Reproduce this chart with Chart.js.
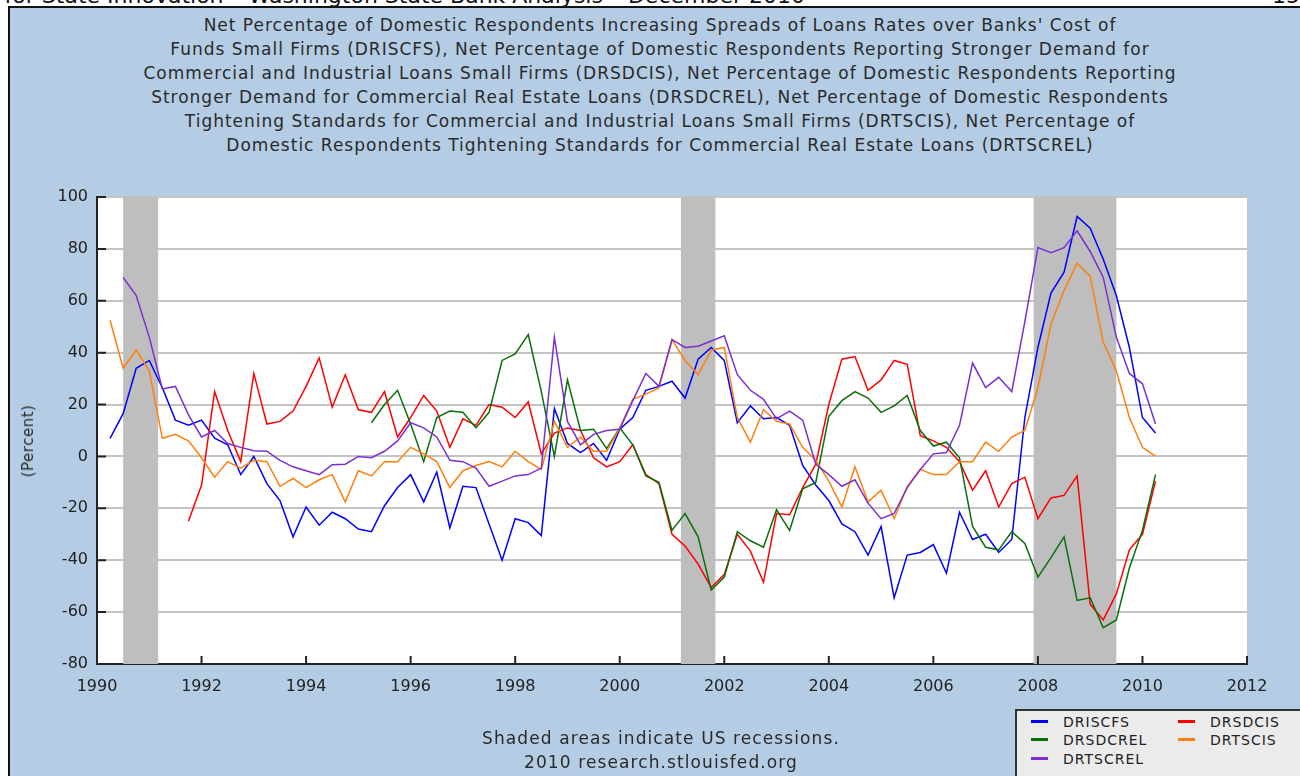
<!DOCTYPE html>
<html>
<head>
<meta charset="utf-8">
<script src="https://cdn.jsdelivr.net/npm/chart.js@4.4.1/dist/chart.umd.min.js"></script>
<style>
  html, body { margin: 0; padding: 0; background: #ffffff; width: 1300px; height: 776px; overflow: hidden; font-family: 'DejaVu Sans', Verdana, sans-serif; }
  #header { position: absolute; right: 495px; top: -15px; white-space: nowrap; font-size: 22px; line-height: 22px; color: #111; }
  #pageno { position: absolute; left: 1272px; top: -15px; font-size: 22px; line-height: 22px; color: #111; }
  #frame { position: absolute; left: 8px; top: 6px; width: 1300px; height: 780px; border-left: 2px solid #111; border-top: 2px solid #111; background: #b4cde4; }
  #chartwrap { position: absolute; left: 0; top: 0; width: 1300px; height: 776px; }
  #title { position: absolute; left: 0; top: 13px; width: 1320px; text-align: center; font-size: 17px; letter-spacing: 1px; line-height: 24px; color: #2a2a2a; }
  #ylab { position: absolute; left: 28px; top: 441px; transform: translate(-50%, -50%) rotate(-90deg); font-size: 15px; letter-spacing: 0.5px; color: #2a2a2a; white-space: nowrap; }
  .foot { position: absolute; left: 261px; width: 800px; text-align: center; font-size: 17px; letter-spacing: 1.1px; color: #2a2a2a; }
  #legend { position: absolute; left: 1015px; top: 709px; width: 290px; height: 80px; border: 2px solid #333; background: #ebebeb; }
  .li { position: absolute; font-size: 14px; letter-spacing: 1px; color: #222; line-height: 16px; }
  .sw { position: absolute; width: 17px; height: 3px; }
</style>
</head>
<body>
<div id="header">Center for State Innovation – Washington State Bank Analysis – December 2010</div>
<div id="pageno">15</div>
<div id="frame"></div>
<div id="title">Net Percentage of Domestic Respondents Increasing Spreads of Loans Rates over Banks' Cost of<br>Funds Small Firms (DRISCFS), Net Percentage of Domestic Respondents Reporting Stronger Demand for<br>Commercial and Industrial Loans Small Firms (DRSDCIS), Net Percentage of Domestic Respondents Reporting<br>Stronger Demand for Commercial Real Estate Loans (DRSDCREL), Net Percentage of Domestic Respondents<br>Tightening Standards for Commercial and Industrial Loans Small Firms (DRTSCIS), Net Percentage of<br>Domestic Respondents Tightening Standards for Commercial Real Estate Loans (DRTSCREL)</div>
<div id="chartwrap"><canvas id="c" width="1300" height="776"></canvas></div>
<div id="ylab">(Percent)</div>
<div class="foot" style="top:728px;">Shaded areas indicate US recessions.</div>
<div class="foot" style="top:752px;">2010 research.stlouisfed.org</div>
<div id="legend"></div>
<script>
// Quarterly observation dates
const quarters = [
  '1990Q2','1990Q3','1990Q4',
  '1991Q1','1991Q2','1991Q3','1991Q4',
  '1992Q1','1992Q2','1992Q3','1992Q4',
  '1993Q1','1993Q2','1993Q3','1993Q4',
  '1994Q1','1994Q2','1994Q3','1994Q4',
  '1995Q1','1995Q2','1995Q3','1995Q4',
  '1996Q1','1996Q2','1996Q3','1996Q4',
  '1997Q1','1997Q2','1997Q3','1997Q4',
  '1998Q1','1998Q2','1998Q3','1998Q4',
  '1999Q1','1999Q2','1999Q3','1999Q4',
  '2000Q1','2000Q2','2000Q3','2000Q4',
  '2001Q1','2001Q2','2001Q3','2001Q4',
  '2002Q1','2002Q2','2002Q3','2002Q4',
  '2003Q1','2003Q2','2003Q3','2003Q4',
  '2004Q1','2004Q2','2004Q3','2004Q4',
  '2005Q1','2005Q2','2005Q3','2005Q4',
  '2006Q1','2006Q2','2006Q3','2006Q4',
  '2007Q1','2007Q2','2007Q3','2007Q4',
  '2008Q1','2008Q2','2008Q3','2008Q4',
  '2009Q1','2009Q2','2009Q3','2009Q4',
  '2010Q1','2010Q2'
];

const driscfs = [
  7, 16.5, 34,
  37, 26.5, 14, 12,
  14, 7, 4.5, -7,
  0, -10.5, -17, -31,
  -19.5, -26.5, -21.5, -24,
  -28, -29, -19, -12,
  -7, -17.5, -6, -27.5,
  -11.5, -12, -26, -40,
  -24, -25.5, -30.5, 18.5,
  5, 1.5, 5, -1.5,
  10.5, 15, 25.5, 27,
  29, 22.5, 37.5, 42,
  37, 13, 19.5, 14.5,
  15, 12, -3.5, -11,
  -17, -26, -29, -38,
  -27, -54.5, -38, -37,
  -34, -45, -21.5, -32,
  -30, -37, -32, 15,
  42, 63, 71, 92.5,
  88, 76, 62, 42,
  15, 9
];

const drsdcis = [
  null, null, null,
  null, null, null, -25,
  -11, 25, 10, -2,
  32, 12.5, 13.5, 17.5,
  27, 38, 19, 31.5,
  18, 17, 25, 7.5,
  15, 23.5, 17.5, 3.5,
  14.5, 12, 20, 19,
  15, 21, 1, 9,
  11, 10, -0.5, -4,
  -2, 4.5, -7, -10.5,
  -30, -34.5, -41.5, -50.5,
  -45.5, -30, -36.5, -48.5,
  -22, -22.5, -12, -3,
  20, 37.5, 38.5, 25.5,
  29.5, 37, 35.5, 8,
  6, 3.5, -2, -13,
  -5.5, -19.5, -10.5, -8,
  -24, -16, -15, -7.5,
  -57, -63, -53, -36,
  -30, -9.5
];

const drsdcrel = [
  null, null, null,
  null, null, null, null,
  null, null, null, null,
  null, null, null, null,
  null, null, null, null,
  null, 13, 20, 25.5,
  12.5, -2, 15, 17.5,
  17, 11, 17, 37,
  39.5, 47, 25, 0,
  29.5, 10, 10.5, 3,
  11, 4.5, -7.5, -10,
  -28.5, -22, -31, -51.5,
  -46.5, -29, -32.5, -35,
  -20.5, -28.5, -12.5, -10,
  15.5, 21.5, 25, 22.5,
  17, 19.5, 23.5, 10,
  4, 5.5, -0.5, -27,
  -35, -36, -29, -33.5,
  -46.5, -39, -31, -55.5,
  -54.5, -66, -63, -43,
  -28.5, -7
];

const drtscis = [
  52.5, 34, 41,
  33, 7, 8.5, 6,
  -0.5, -8, -2, -4.5,
  -1.5, -2, -11.5, -8.5,
  -12, -9, -7, -17.5,
  -5.5, -7.5, -2, -2,
  3.5, 1, -2, -12,
  -5.5, -3.5, -2, -4,
  2, -2, -5, 13.5,
  3.5, 7.5, 2, 2,
  11, 22, 24, 26.5,
  45, 37, 31.5, 41,
  42, 15, 5.5, 18,
  13.5, 12.5, 3.5, -1.5,
  -9.5, -19.5, -4, -17.5,
  -13, -24, -11.5, -5,
  -7, -7, -2, -2,
  5.5, 2, 7.5, 10,
  26.5, 51, 64, 74.5,
  69.5, 44, 33, 15,
  3.5, 0
];

const drtscrel = [
  null, 69, 62,
  46, 26, 27, 16,
  7.5, 10, 5, 3.5,
  2.2, 2, -1.5, -4,
  -5.5, -7, -3.2, -3,
  0, -0.5, 2, 6,
  13, 11, 7.5, -1.5,
  -2, -4.5, -11.5, -9.5,
  -7.5, -7, -4.5, 46,
  13.5, 4.5, 8.5, 10,
  10.5, 21.5, 32, 27,
  45, 42, 42.5, 44.5,
  46.5, 31.5, 25.5, 22,
  14.5, 17.5, 14, -3,
  -7, -11.5, -9, -18,
  -24, -22, -12, -5,
  1, 1.5, 12, 36,
  26.5, 30.5, 25, 52,
  80.5, 78.5, 80.5, 87,
  79, 69, 46, 32,
  28, 12.5
];

const seriesNames = ['DRISCFS', 'DRSDCIS', 'DRSDCREL', 'DRTSCIS', 'DRTSCREL'];
const seriesColors = ['#0000ff', '#ff0000', '#0a6e0a', '#ff7f0e', '#7b2fd3'];

// US recessions (decimal years)
const recessionStart = [1990.5, 2001.17, 2007.92];
const recessionEnd = [1991.17, 2001.83, 2009.5];

function qToYear(q) {
  const y = parseInt(q.slice(0, 4), 10);
  const n = parseInt(q.slice(5), 10);
  return y + (n - 1) / 4;
}
function toPoints(vals) {
  return quarters.map((q, i) => ({ x: qToYear(q), y: vals[i] }));
}

const allSeries = [driscfs, drsdcis, drsdcrel, drtscis, drtscrel];
const drawOrder = [4, 3, 2, 1, 0];
const datasets = allSeries.map((vals, i) => ({
  label: seriesNames[i],
  data: toPoints(vals),
  borderColor: seriesColors[i],
  backgroundColor: seriesColors[i],
  borderWidth: 1.5,
  pointRadius: 0,
  tension: 0,
  spanGaps: false,
  order: drawOrder[i]
}));

const bgPlugin = {
  id: 'plotbg',
  beforeDraw(chart) {
    const { ctx, chartArea: a } = chart;
    ctx.save();
    ctx.fillStyle = '#ffffff';
    ctx.fillRect(a.left, a.top, a.right - a.left, a.bottom - a.top);
    ctx.restore();
  },
  beforeDatasetsDraw(chart) {
    const { ctx, chartArea: a, scales } = chart;
    ctx.save();
    ctx.fillStyle = '#bebebe';
    for (let i = 0; i < recessionStart.length; i++) {
      const x0 = scales.x.getPixelForValue(recessionStart[i]);
      const x1 = scales.x.getPixelForValue(recessionEnd[i]);
      ctx.fillRect(x0, a.top, x1 - x0, a.bottom - a.top);
    }
    ctx.strokeStyle = '#c8c8c8';
    ctx.lineWidth = 1;
    ctx.beginPath();
    ctx.moveTo(a.right + 0.5, a.top);
    ctx.lineTo(a.right + 0.5, a.bottom);
    ctx.stroke();
    ctx.restore();
  },
  afterDatasetsDraw(chart) {
    const { ctx, chartArea: a, scales } = chart;
    ctx.save();
    ctx.strokeStyle = '#222';
    ctx.lineWidth = 2;
    ctx.beginPath();
    scales.y.ticks.forEach(t => {
      const y = scales.y.getPixelForValue(t.value);
      ctx.moveTo(a.left, y);
      ctx.lineTo(a.left + 9, y);
    });
    scales.x.ticks.forEach(t => {
      const x = scales.x.getPixelForValue(t.value);
      ctx.moveTo(x, a.bottom);
      ctx.lineTo(x, a.bottom - 8);
    });
    ctx.stroke();
    ctx.restore();
  }
};

const tickFont = { family: 'DejaVu Sans', size: 16 };

new Chart(document.getElementById('c'), {
  type: 'line',
  data: { datasets },
  options: {
    responsive: false,
    animation: false,
    events: [],
    layout: { padding: { top: 197, right: 53, left: 0, bottom: 0 } },
    plugins: { legend: { display: false }, title: { display: false }, tooltip: { enabled: false } },
    scales: {
      x: {
        type: 'linear', min: 1990, max: 2012,
        ticks: { stepSize: 2, color: '#222', font: tickFont, padding: 13, maxRotation: 0, autoSkip: false, callback: v => String(v) },
        grid: { display: false, drawTicks: false },
        border: { color: '#222', width: 2 },
        afterFit: s => { s.height = 112; }
      },
      y: {
        min: -80, max: 100,
        ticks: { stepSize: 20, color: '#222', font: tickFont, padding: 9 },
        grid: { color: '#c4c4c4', lineWidth: 2, drawTicks: false },
        border: { color: '#222', width: 2 },
        afterFit: s => { s.width = 97; }
      }
    }
  },
  plugins: [bgPlugin]
});

// HTML legend
const legendLayout = [
  { i: 0, x: 14, y: 3 }, { i: 2, x: 14, y: 21 }, { i: 4, x: 14, y: 40 },
  { i: 1, x: 161, y: 3 }, { i: 3, x: 161, y: 21 }
];
const leg = document.getElementById('legend');
legendLayout.forEach(e => {
  const sw = document.createElement('div');
  sw.className = 'sw';
  sw.style.left = e.x + 'px';
  sw.style.top = (e.y + 6) + 'px';
  sw.style.background = seriesColors[e.i];
  leg.appendChild(sw);
  const t = document.createElement('div');
  t.className = 'li';
  t.style.left = (e.x + 32) + 'px';
  t.style.top = e.y + 'px';
  t.textContent = seriesNames[e.i];
  leg.appendChild(t);
});
</script>
</body>
</html>
